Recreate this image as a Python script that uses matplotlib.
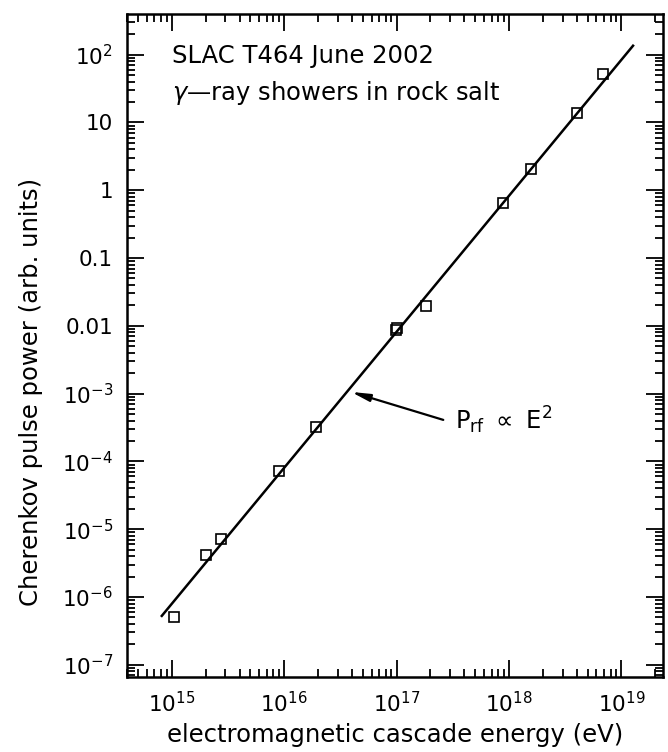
import numpy as np
import matplotlib
matplotlib.use("Agg")
import matplotlib.pyplot as plt
from matplotlib.ticker import FixedLocator, LogLocator, NullFormatter

energy_eV = [1.05e15, 2.0e15, 2.73e15, 8.9e15, 1.92e16, 9.8e16, 1.0e17, 1.81e17,
             8.75e17, 1.58e18, 4.0e18, 6.86e18]
power_arb = [5.1e-7, 4.2e-6, 7.2e-6, 7.3e-5, 3.2e-4, 8.6e-3, 9.2e-3, 1.98e-2,
             0.65, 2.06, 13.8, 52.0]

# P_rf ~ E^2 line, end points
fit_x = [8.0e14, 1.29e19]
fit_y = [5.1e-7, 1.40e2]

ytick_vals = [1e2, 1e1, 1, 1e-1, 1e-2, 1e-3, 1e-4, 1e-5, 1e-6, 1e-7]
ytick_labels = [r'$10^2$', '10', '1', '0.1', '0.01', r'$10^{-3}$', r'$10^{-4}$',
                r'$10^{-5}$', r'$10^{-6}$', r'$10^{-7}$']
xtick_vals = [1e15, 1e16, 1e17, 1e18, 1e19]
xtick_labels = [r'$10^{15}$', r'$10^{16}$', r'$10^{17}$', r'$10^{18}$', r'$10^{19}$']

plt.rcParams['font.family'] = ['DejaVu Sans']
plt.rcParams['mathtext.fontset'] = 'dejavusans'
plt.rcParams['mathtext.default'] = 'regular'

fig = plt.figure(figsize=(6.68, 7.52), dpi=100)
ax = fig.add_axes([0.190, 0.0997, 0.8025, 0.8817])

ax.plot(fit_x, fit_y, color='k', lw=1.8, solid_capstyle='butt')
ax.plot(energy_eV, power_arb, ls='none', marker='s', ms=6.5, mfc='none',
        mec='k', mew=1.2)

ax.set_xscale('log')
ax.set_yscale('log')
ax.set_xlim(10**14.60, 10**19.37)
ax.set_ylim(10**-7.18, 10**2.6)

ax.xaxis.set_major_locator(FixedLocator(xtick_vals))
ax.set_xticklabels(xtick_labels)
ax.xaxis.set_minor_locator(LogLocator(base=10, subs=np.arange(2, 10), numticks=20))
ax.xaxis.set_minor_formatter(NullFormatter())
ax.yaxis.set_major_locator(FixedLocator(ytick_vals))
ax.set_yticklabels(ytick_labels)
ax.yaxis.set_minor_locator(LogLocator(base=10, subs=np.arange(2, 10), numticks=20))
ax.yaxis.set_minor_formatter(NullFormatter())

ax.tick_params(which='both', direction='in', top=True, right=True, colors='k')
ax.tick_params(which='major', length=12, width=1.3, labelsize=15.5, pad=10)
ax.tick_params(which='minor', length=6, width=1.3)
for s in ax.spines.values():
    s.set_linewidth(1.8)

ax.set_xlabel('electromagnetic cascade energy (eV)', fontsize=17.5, labelpad=5)
ax.set_ylabel('Cherenkov pulse power (arb. units)', fontsize=17.5)
ax.yaxis.set_label_coords(-0.157, 0.43)

ax.text(0.085, 0.9256, 'SLAC T464 June 2002', transform=ax.transAxes,
        fontsize=17.5, va='baseline', ha='left')
ax.text(0.085, 0.870, r'$\mathit{\gamma}$' + '\u2014ray showers in rock salt',
        transform=ax.transAxes, fontsize=17.5, va='baseline', ha='left')

ax.annotate('', xy=(3.93e16, 1.06e-3), xytext=(2.6e17, 4.1e-4),
            arrowprops=dict(arrowstyle='-|>,head_length=1.1,head_width=0.22',
                            lw=1.6, color='k', shrinkA=0, shrinkB=0))
ax.text(3.3e17, 4.1e-4, r'P$_{\mathrm{rf}}$ $\propto$ E$^2$', fontsize=17.5,
        va='center', ha='left')

fig.savefig('out.png', dpi=100)
